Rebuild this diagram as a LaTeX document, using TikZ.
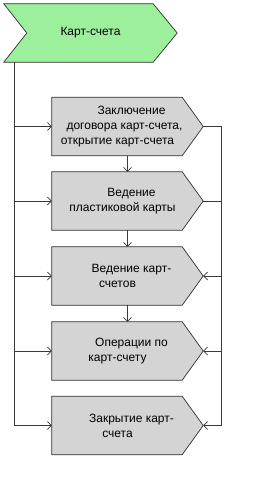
\documentclass[tikz,border=0pt]{standalone}
\usepackage{fontspec}
\setmainfont{Liberation Sans}
\usetikzlibrary{arrows.meta,calc}
\definecolor{greenfill}{HTML}{9CF09C}
\definecolor{grayfill}{HTML}{D4D4D4}
\definecolor{shadowc}{HTML}{A0A0A0}
\definecolor{linec}{HTML}{3A3A3A}
\newcommand{\mkprocshape}[1]{%
  \fill[shadowc,shift={(5,5)}] (#1.north west) -- ([xshift=-21pt]#1.north east) -- (#1.east) -- ([xshift=-21pt]#1.south east) -- (#1.south west) -- cycle;
  \filldraw[fill=grayfill,draw=black!80,line width=0.7pt] (#1.north west) -- ([xshift=-21pt]#1.north east) -- (#1.east) -- ([xshift=-21pt]#1.south east) -- (#1.south west) -- cycle;
}
\begin{document}
\begin{tikzpicture}[x=1pt,y=-1pt,
  procbox/.style={minimum width=151pt,minimum height=58pt,inner sep=0pt,align=center,font=\fontsize{12}{15}\selectfont},
  eventbox/.style={minimum width=173pt,minimum height=58pt,inner sep=0pt,align=center,font=\fontsize{12}{15}\selectfont},
  conn/.style={draw=linec,line width=0.7pt},
  arr/.style={conn,-{Straight Barb[length=4pt,width=8pt]}}]
\useasboundingbox (0,0) rectangle (265,482);
% boxes (invisible nodes, outline drawn after)
\path (90.5,33) node[eventbox] (top) {};
\fill[shadowc,shift={(5,5)}] (top.north west) -- ([xshift=-24pt]top.north east) -- (top.east) -- ([xshift=-24pt]top.south east) -- (top.south west) -- ([xshift=23pt]top.west) -- cycle;
\filldraw[fill=greenfill,draw=black!80,line width=0.7pt] (top.north west) -- ([xshift=-24pt]top.north east) -- (top.east) -- ([xshift=-24pt]top.south east) -- (top.south west) -- ([xshift=23pt]top.west) -- cycle;
\node[eventbox] at (top) {Карт-счета};

\path (127.5,126.5) node[procbox] (b1) {};
\path (127.5,201) node[procbox] (b2) {};
\path (127.5,276) node[procbox] (b3) {};
\path (127.5,351) node[procbox] (b4) {};
\path (127.5,425.5) node[procbox] (b5) {};
\mkprocshape{b1}\mkprocshape{b2}\mkprocshape{b3}\mkprocshape{b4}\mkprocshape{b5}
\node[procbox] at ([xshift=-3pt]b1) {\hspace*{14pt}Заключение\\договора карт-счета,\hspace*{14pt}\\открытие карт-счета\hspace*{14pt}};
\node[procbox] at ([xshift=-3pt]b2) {\hspace*{14pt}Ведение\\пластиковой карты\hspace*{4pt}};
\node[procbox] at ([xshift=-3pt]b3) {\hspace*{14pt}Ведение карт-\\счетов\hspace*{14pt}};
\node[procbox] at ([xshift=-3pt]b4) {\hspace*{14pt}Операции по\\карт-счету\hspace*{14pt}};
\node[procbox] at ([xshift=-3pt]b5) {\hspace*{14pt}Закрытие карт-\\счета\hspace*{14pt}};

% left trunk
\coordinate (L) at ([xshift=11pt]top.south west);
\draw[conn] (L) -- (L |- b5.west);
\foreach \b in {b1,b2,b3,b4,b5}{\draw[arr] (L |- \b.west) -- (\b.west);}
% vertical arrows
\draw[arr] (b1.south) -- (b2.north);
\draw[arr] (b2.south) -- (b3.north);
\draw[arr] (b3.south) -- (b4.north);
% right trunk
\coordinate (R) at (221,0);
\draw[conn] (b1.east) -- (R |- b1.east) -- (R |- b5.east);
\draw[conn] (b2.east) -- (R |- b2.east);
\foreach \b in {b3,b4,b5}{\draw[arr] (R |- \b.east) -- (\b.east);}
\end{tikzpicture}
\end{document}
